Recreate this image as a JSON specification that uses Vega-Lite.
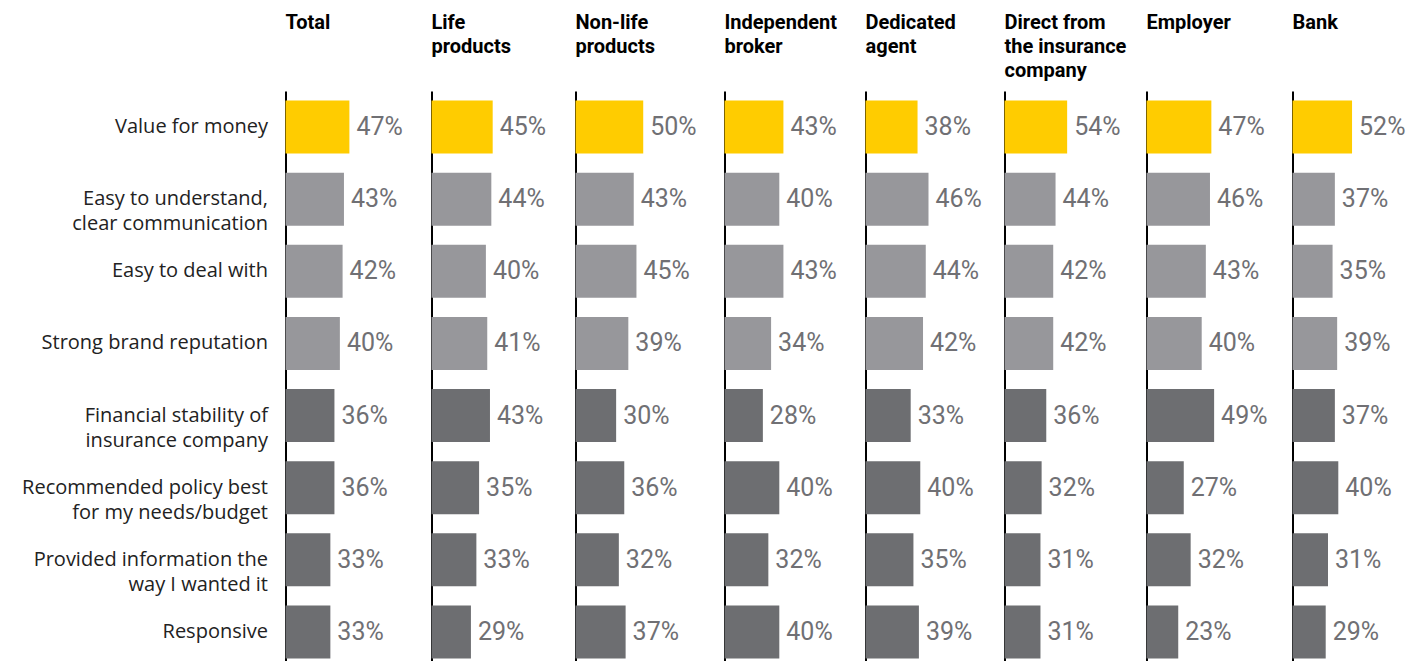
{
  "$schema": "https://vega.github.io/schema/vega-lite/v6.json",
  "padding": {"left": 21.5, "top": 13, "right": 0, "bottom": 0},
  "bounds": "flush",
  "spacing": 0,
  "background": "white",
  "config": {
    "view": {"stroke": null},
    "font": "Roboto",
    "title": {"fontSize": 20, "fontWeight": "bold", "color": "#000000", "anchor": "start", "frame": "group", "lineHeight": 24, "offset": 10, "font": "Roboto"},
    "axis": {"ticks": false, "grid": false, "domainColor": "#000000", "domainWidth": 2, "title": null}
  },
  "data": {"values": [
    {"channel": "Total", "item": "Value for money", "value": 0.47},
    {"channel": "Total", "item": "Easy to understand,|clear communication", "value": 0.43},
    {"channel": "Total", "item": "Easy to deal with", "value": 0.42},
    {"channel": "Total", "item": "Strong brand reputation", "value": 0.40},
    {"channel": "Total", "item": "Financial stability of|insurance company", "value": 0.36},
    {"channel": "Total", "item": "Recommended policy best|for my needs/budget", "value": 0.36},
    {"channel": "Total", "item": "Provided information the|way I wanted it", "value": 0.33},
    {"channel": "Total", "item": "Responsive", "value": 0.33},
    {"channel": "Life", "item": "Value for money", "value": 0.45},
    {"channel": "Life", "item": "Easy to understand,|clear communication", "value": 0.44},
    {"channel": "Life", "item": "Easy to deal with", "value": 0.40},
    {"channel": "Life", "item": "Strong brand reputation", "value": 0.41},
    {"channel": "Life", "item": "Financial stability of|insurance company", "value": 0.43},
    {"channel": "Life", "item": "Recommended policy best|for my needs/budget", "value": 0.35},
    {"channel": "Life", "item": "Provided information the|way I wanted it", "value": 0.33},
    {"channel": "Life", "item": "Responsive", "value": 0.29},
    {"channel": "Nonlife", "item": "Value for money", "value": 0.50},
    {"channel": "Nonlife", "item": "Easy to understand,|clear communication", "value": 0.43},
    {"channel": "Nonlife", "item": "Easy to deal with", "value": 0.45},
    {"channel": "Nonlife", "item": "Strong brand reputation", "value": 0.39},
    {"channel": "Nonlife", "item": "Financial stability of|insurance company", "value": 0.30},
    {"channel": "Nonlife", "item": "Recommended policy best|for my needs/budget", "value": 0.36},
    {"channel": "Nonlife", "item": "Provided information the|way I wanted it", "value": 0.32},
    {"channel": "Nonlife", "item": "Responsive", "value": 0.37},
    {"channel": "Broker", "item": "Value for money", "value": 0.43},
    {"channel": "Broker", "item": "Easy to understand,|clear communication", "value": 0.40},
    {"channel": "Broker", "item": "Easy to deal with", "value": 0.43},
    {"channel": "Broker", "item": "Strong brand reputation", "value": 0.34},
    {"channel": "Broker", "item": "Financial stability of|insurance company", "value": 0.28},
    {"channel": "Broker", "item": "Recommended policy best|for my needs/budget", "value": 0.40},
    {"channel": "Broker", "item": "Provided information the|way I wanted it", "value": 0.32},
    {"channel": "Broker", "item": "Responsive", "value": 0.40},
    {"channel": "Agent", "item": "Value for money", "value": 0.38},
    {"channel": "Agent", "item": "Easy to understand,|clear communication", "value": 0.46},
    {"channel": "Agent", "item": "Easy to deal with", "value": 0.44},
    {"channel": "Agent", "item": "Strong brand reputation", "value": 0.42},
    {"channel": "Agent", "item": "Financial stability of|insurance company", "value": 0.33},
    {"channel": "Agent", "item": "Recommended policy best|for my needs/budget", "value": 0.40},
    {"channel": "Agent", "item": "Provided information the|way I wanted it", "value": 0.35},
    {"channel": "Agent", "item": "Responsive", "value": 0.39},
    {"channel": "Direct", "item": "Value for money", "value": 0.54},
    {"channel": "Direct", "item": "Easy to understand,|clear communication", "value": 0.44},
    {"channel": "Direct", "item": "Easy to deal with", "value": 0.42},
    {"channel": "Direct", "item": "Strong brand reputation", "value": 0.42},
    {"channel": "Direct", "item": "Financial stability of|insurance company", "value": 0.36},
    {"channel": "Direct", "item": "Recommended policy best|for my needs/budget", "value": 0.32},
    {"channel": "Direct", "item": "Provided information the|way I wanted it", "value": 0.31},
    {"channel": "Direct", "item": "Responsive", "value": 0.31},
    {"channel": "Employer", "item": "Value for money", "value": 0.47},
    {"channel": "Employer", "item": "Easy to understand,|clear communication", "value": 0.46},
    {"channel": "Employer", "item": "Easy to deal with", "value": 0.43},
    {"channel": "Employer", "item": "Strong brand reputation", "value": 0.40},
    {"channel": "Employer", "item": "Financial stability of|insurance company", "value": 0.49},
    {"channel": "Employer", "item": "Recommended policy best|for my needs/budget", "value": 0.27},
    {"channel": "Employer", "item": "Provided information the|way I wanted it", "value": 0.32},
    {"channel": "Employer", "item": "Responsive", "value": 0.23},
    {"channel": "Bank", "item": "Value for money", "value": 0.52},
    {"channel": "Bank", "item": "Easy to understand,|clear communication", "value": 0.37},
    {"channel": "Bank", "item": "Easy to deal with", "value": 0.35},
    {"channel": "Bank", "item": "Strong brand reputation", "value": 0.39},
    {"channel": "Bank", "item": "Financial stability of|insurance company", "value": 0.37},
    {"channel": "Bank", "item": "Recommended policy best|for my needs/budget", "value": 0.40},
    {"channel": "Bank", "item": "Provided information the|way I wanted it", "value": 0.31},
    {"channel": "Bank", "item": "Responsive", "value": 0.29}
  ]},
  "hconcat": [
    {
      "width": 146, "height": 577,
      "title": {"text": ["Total", " ", " "]},
      "transform": [{"filter": "datum.channel === 'Total'"}],
      "encoding": {
        "y": {"field": "item", "type": "nominal", "sort": null, "scale": {"paddingInner": 0.265, "paddingOuter": 0.1325},
              "axis": {"labelExpr": "split(datum.label, '|')", "labelFontSize": 20, "labelColor": "#222222", "labelPadding": 18, "labelLimit": 400, "labelLineHeight": 25, "labelFont": "Open Sans"}},
        "x": {"field": "value", "type": "quantitative", "scale": {"domain": [0, 1.074]}, "axis": null}
      },
      "layer": [
        {"mark": {"type": "bar"}, "encoding": {"color": {"field": "item", "type": "nominal", "legend": null, "scale": {"domain": ["Value for money", "Easy to understand,|clear communication", "Easy to deal with", "Strong brand reputation", "Financial stability of|insurance company", "Recommended policy best|for my needs/budget", "Provided information the|way I wanted it", "Responsive"], "range": ["#FFCC00", "#97979B", "#97979B", "#97979B", "#6D6E71", "#6D6E71", "#6D6E71", "#6D6E71"]}}}},
        {"mark": {"type": "text", "align": "left", "baseline": "middle", "dx": 7, "fontSize": 25, "color": "#707074"}, "encoding": {"text": {"field": "value", "type": "quantitative", "format": ".0%"}}}
      ]
    },
    {
      "width": 144, "height": 577,
      "title": {"text": ["Life", "products", " "]},
      "transform": [{"filter": "datum.channel === 'Life'"}],
      "encoding": {
        "y": {"field": "item", "type": "nominal", "sort": null, "scale": {"paddingInner": 0.265, "paddingOuter": 0.1325}, "axis": {"labels": false}},
        "x": {"field": "value", "type": "quantitative", "scale": {"domain": [0, 1.059]}, "axis": null}
      },
      "layer": [
        {"mark": {"type": "bar"}, "encoding": {"color": {"field": "item", "type": "nominal", "legend": null, "scale": {"domain": ["Value for money", "Easy to understand,|clear communication", "Easy to deal with", "Strong brand reputation", "Financial stability of|insurance company", "Recommended policy best|for my needs/budget", "Provided information the|way I wanted it", "Responsive"], "range": ["#FFCC00", "#97979B", "#97979B", "#97979B", "#6D6E71", "#6D6E71", "#6D6E71", "#6D6E71"]}}}},
        {"mark": {"type": "text", "align": "left", "baseline": "middle", "dx": 7, "fontSize": 25, "color": "#707074"}, "encoding": {"text": {"field": "value", "type": "quantitative", "format": ".0%"}}}
      ]
    },
    {
      "width": 149, "height": 577,
      "title": {"text": ["Non-life", "products", " "]},
      "transform": [{"filter": "datum.channel === 'Nonlife'"}],
      "encoding": {
        "y": {"field": "item", "type": "nominal", "sort": null, "scale": {"paddingInner": 0.265, "paddingOuter": 0.1325}, "axis": {"labels": false}},
        "x": {"field": "value", "type": "quantitative", "scale": {"domain": [0, 1.10]}, "axis": null}
      },
      "layer": [
        {"mark": {"type": "bar"}, "encoding": {"color": {"field": "item", "type": "nominal", "legend": null, "scale": {"domain": ["Value for money", "Easy to understand,|clear communication", "Easy to deal with", "Strong brand reputation", "Financial stability of|insurance company", "Recommended policy best|for my needs/budget", "Provided information the|way I wanted it", "Responsive"], "range": ["#FFCC00", "#97979B", "#97979B", "#97979B", "#6D6E71", "#6D6E71", "#6D6E71", "#6D6E71"]}}}},
        {"mark": {"type": "text", "align": "left", "baseline": "middle", "dx": 7, "fontSize": 25, "color": "#707074"}, "encoding": {"text": {"field": "value", "type": "quantitative", "format": ".0%"}}}
      ]
    },
    {
      "width": 141, "height": 577,
      "title": {"text": ["Independent", "broker", " "]},
      "transform": [{"filter": "datum.channel === 'Broker'"}],
      "encoding": {
        "y": {"field": "item", "type": "nominal", "sort": null, "scale": {"paddingInner": 0.265, "paddingOuter": 0.1325}, "axis": {"labels": false}},
        "x": {"field": "value", "type": "quantitative", "scale": {"domain": [0, 1.029]}, "axis": null}
      },
      "layer": [
        {"mark": {"type": "bar"}, "encoding": {"color": {"field": "item", "type": "nominal", "legend": null, "scale": {"domain": ["Value for money", "Easy to understand,|clear communication", "Easy to deal with", "Strong brand reputation", "Financial stability of|insurance company", "Recommended policy best|for my needs/budget", "Provided information the|way I wanted it", "Responsive"], "range": ["#FFCC00", "#97979B", "#97979B", "#97979B", "#6D6E71", "#6D6E71", "#6D6E71", "#6D6E71"]}}}},
        {"mark": {"type": "text", "align": "left", "baseline": "middle", "dx": 7, "fontSize": 25, "color": "#707074"}, "encoding": {"text": {"field": "value", "type": "quantitative", "format": ".0%"}}}
      ]
    },
    {
      "width": 139, "height": 577,
      "title": {"text": ["Dedicated", "agent", " "]},
      "transform": [{"filter": "datum.channel === 'Agent'"}],
      "encoding": {
        "y": {"field": "item", "type": "nominal", "sort": null, "scale": {"paddingInner": 0.265, "paddingOuter": 0.1325}, "axis": {"labels": false}},
        "x": {"field": "value", "type": "quantitative", "scale": {"domain": [0, 1.015]}, "axis": null}
      },
      "layer": [
        {"mark": {"type": "bar"}, "encoding": {"color": {"field": "item", "type": "nominal", "legend": null, "scale": {"domain": ["Value for money", "Easy to understand,|clear communication", "Easy to deal with", "Strong brand reputation", "Financial stability of|insurance company", "Recommended policy best|for my needs/budget", "Provided information the|way I wanted it", "Responsive"], "range": ["#FFCC00", "#97979B", "#97979B", "#97979B", "#6D6E71", "#6D6E71", "#6D6E71", "#6D6E71"]}}}},
        {"mark": {"type": "text", "align": "left", "baseline": "middle", "dx": 7, "fontSize": 25, "color": "#707074"}, "encoding": {"text": {"field": "value", "type": "quantitative", "format": ".0%"}}}
      ]
    },
    {
      "width": 142, "height": 577,
      "title": {"text": ["Direct from", "the insurance", "company"]},
      "transform": [{"filter": "datum.channel === 'Direct'"}],
      "encoding": {
        "y": {"field": "item", "type": "nominal", "sort": null, "scale": {"paddingInner": 0.265, "paddingOuter": 0.1325}, "axis": {"labels": false}},
        "x": {"field": "value", "type": "quantitative", "scale": {"domain": [0, 1.224]}, "axis": null}
      },
      "layer": [
        {"mark": {"type": "bar"}, "encoding": {"color": {"field": "item", "type": "nominal", "legend": null, "scale": {"domain": ["Value for money", "Easy to understand,|clear communication", "Easy to deal with", "Strong brand reputation", "Financial stability of|insurance company", "Recommended policy best|for my needs/budget", "Provided information the|way I wanted it", "Responsive"], "range": ["#FFCC00", "#97979B", "#97979B", "#97979B", "#6D6E71", "#6D6E71", "#6D6E71", "#6D6E71"]}}}},
        {"mark": {"type": "text", "align": "left", "baseline": "middle", "dx": 7, "fontSize": 25, "color": "#707074"}, "encoding": {"text": {"field": "value", "type": "quantitative", "format": ".0%"}}}
      ]
    },
    {
      "width": 146, "height": 577,
      "title": {"text": ["Employer", " ", " "]},
      "transform": [{"filter": "datum.channel === 'Employer'"}],
      "encoding": {
        "y": {"field": "item", "type": "nominal", "sort": null, "scale": {"paddingInner": 0.265, "paddingOuter": 0.1325}, "axis": {"labels": false}},
        "x": {"field": "value", "type": "quantitative", "scale": {"domain": [0, 1.058]}, "axis": null}
      },
      "layer": [
        {"mark": {"type": "bar"}, "encoding": {"color": {"field": "item", "type": "nominal", "legend": null, "scale": {"domain": ["Value for money", "Easy to understand,|clear communication", "Easy to deal with", "Strong brand reputation", "Financial stability of|insurance company", "Recommended policy best|for my needs/budget", "Provided information the|way I wanted it", "Responsive"], "range": ["#FFCC00", "#97979B", "#97979B", "#97979B", "#6D6E71", "#6D6E71", "#6D6E71", "#6D6E71"]}}}},
        {"mark": {"type": "text", "align": "left", "baseline": "middle", "dx": 7, "fontSize": 25, "color": "#707074"}, "encoding": {"text": {"field": "value", "type": "quantitative", "format": ".0%"}}}
      ]
    },
    {
      "width": 135, "height": 577,
      "title": {"text": ["Bank", " ", " "]},
      "transform": [{"filter": "datum.channel === 'Bank'"}],
      "encoding": {
        "y": {"field": "item", "type": "nominal", "sort": null, "scale": {"paddingInner": 0.265, "paddingOuter": 0.1325}, "axis": {"labels": false}},
        "x": {"field": "value", "type": "quantitative", "scale": {"domain": [0, 1.179]}, "axis": null}
      },
      "layer": [
        {"mark": {"type": "bar"}, "encoding": {"color": {"field": "item", "type": "nominal", "legend": null, "scale": {"domain": ["Value for money", "Easy to understand,|clear communication", "Easy to deal with", "Strong brand reputation", "Financial stability of|insurance company", "Recommended policy best|for my needs/budget", "Provided information the|way I wanted it", "Responsive"], "range": ["#FFCC00", "#97979B", "#97979B", "#97979B", "#6D6E71", "#6D6E71", "#6D6E71", "#6D6E71"]}}}},
        {"mark": {"type": "text", "align": "left", "baseline": "middle", "dx": 7, "fontSize": 25, "color": "#707074"}, "encoding": {"text": {"field": "value", "type": "quantitative", "format": ".0%"}}}
      ]
    }
  ]
}
